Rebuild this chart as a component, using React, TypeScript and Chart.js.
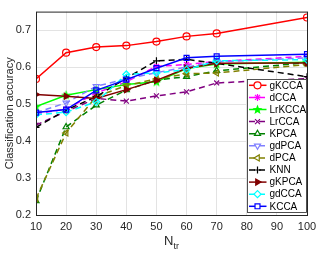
import React, { useEffect, useRef } from "react";
import { Chart, registerables } from "chart.js";
import { drawPoint } from "chart.js/helpers";
Chart.register(...registerables);

const xValues = [10, 20, 30, 40, 50, 60, 70, 100];
const seriesNames = ["gKCCA", "dCCA", "LrKCCA", "LrCCA", "KPCA", "gdPCA", "dPCA", "KNN", "gKPCA", "gdCCA", "KCCA"];
const gKCCA = [0.568, 0.639, 0.654, 0.658, 0.669, 0.683, 0.691, 0.734];
const dCCA = [0.474, 0.486, 0.53, 0.56, 0.602, 0.607, 0.615, 0.629];
const LrKCCA = [0.493, 0.524, 0.539, 0.553, 0.56, 0.596, 0.608, 0.613];
const LrCCA = [0.443, 0.48, 0.515, 0.508, 0.522, 0.533, 0.557, 0.569];
const KPCA = [0.238, 0.438, 0.497, 0.538, 0.565, 0.574, 0.59, 0.612];
const gdPCA = [0.477, 0.503, 0.548, 0.568, 0.585, 0.6, 0.614, 0.625];
const dPCA = [0.244, 0.422, 0.52, 0.55, 0.568, 0.582, 0.584, 0.607];
const KNN = [0.437, 0.484, 0.52, 0.57, 0.617, 0.621, 0.61, 0.574];
const gKPCA = [0.526, 0.521, 0.515, 0.539, 0.564, 0.597, 0.61, 0.611];
const gdCCA = [0.471, 0.478, 0.506, 0.58, 0.584, 0.593, 0.617, 0.62];
const KCCA = [0.477, 0.485, 0.537, 0.566, 0.597, 0.625, 0.629, 0.635];
const seriesValues = [gKCCA, dCCA, LrKCCA, LrCCA, KPCA, gdPCA, dPCA, KNN, gKPCA, gdCCA, KCCA];
const yTicks = [0.2, 0.3, 0.4, 0.5, 0.6, 0.7];

const colors = ["#ff0000", "#ff00ff", "#00ff00", "#800080", "#008000", "#8080ff", "#808000", "#000000", "#800000", "#00ffff", "#0000ff"];
const dashed = [false, true, false, true, true, true, true, true, false, true, false];
const FONT = "'Liberation Sans', Arial, sans-serif";

function pentagram(color: string) {
  const c = document.createElement("canvas");
  c.width = 11; c.height = 11;
  const g = c.getContext("2d")!;
  g.beginPath();
  for (let i = 0; i < 10; i++) {
    const r = i % 2 === 0 ? 5.2 : 2.2;
    const a = -Math.PI / 2 + (i * Math.PI) / 5;
    const x = 5.5 + r * Math.cos(a), y = 5.8 + r * Math.sin(a);
    if (i === 0) g.moveTo(x, y); else g.lineTo(x, y);
  }
  g.closePath();
  g.fillStyle = color; g.fill();
  return c;
}

export default function App() {
  const ref = useRef<HTMLCanvasElement>(null);
  useEffect(() => {
    const star = pentagram(colors[2]);
    const styles: any[] = [
      { ps: "circle", rot: 0, fill: false },
      { ps: "star", rot: 0, fill: false },
      { ps: star, rot: 0, fill: true },
      { ps: "crossRot", rot: 0, fill: false },
      { ps: "triangle", rot: 0, fill: false },
      { ps: "triangle", rot: 180, fill: false },
      { ps: "triangle", rot: -90, fill: false },
      { ps: "cross", rot: 0, fill: false },
      { ps: "triangle", rot: 90, fill: true },
      { ps: "rectRot", rot: 0, fill: false },
      { ps: "rect", rot: 0, fill: false },
    ];
    const datasets = seriesNames.map((name, i) => ({
      label: name,
      data: xValues.map((x, j) => ({ x, y: seriesValues[i][j] })),
      borderColor: colors[i],
      backgroundColor: styles[i].fill ? colors[i] : "rgba(0,0,0,0)",
      borderWidth: 1.5,
      borderDash: dashed[i] ? [6, 4] : [],
      pointStyle: styles[i].ps,
      rotation: styles[i].rot,
      pointRadius: 3.5,
      pointBorderWidth: 1.2,
      order: -i,
      tension: 0,
    }));

    const frame = {
      id: "frame",
      afterDraw(chart: any) {
        const { ctx, chartArea: a } = chart;
        ctx.save();
        ctx.strokeStyle = "#262626";
        ctx.lineWidth = 1;
        ctx.strokeRect(a.left + 0.5, a.top + 0.5, a.right - a.left, a.bottom - a.top);
        ctx.fillStyle = "#262626";
        ctx.textBaseline = "alphabetic";
        ctx.font = `13px ${FONT}`;
        const nW = ctx.measureText("N").width;
        ctx.font = `9px ${FONT}`;
        const sW = ctx.measureText("tr").width;
        const cx = (a.left + a.right) / 2;
        const x0 = cx - (nW + sW) / 2;
        ctx.font = `13px ${FONT}`;
        ctx.fillText("N", x0, 245);
        ctx.font = `9px ${FONT}`;
        ctx.fillText("tr", x0 + nW, 249);
        ctx.save();
        ctx.translate(10, (a.top + a.bottom) / 2);
        ctx.rotate(-Math.PI / 2);
        ctx.font = `11px ${FONT}`;
        ctx.textAlign = "center";
        ctx.textBaseline = "middle";
        ctx.fillText("Classification accuracy", 0, 0);
        ctx.restore();
        const L = 247, T = 79, R = 307, B = 213;
        ctx.fillStyle = "#ffffff";
        ctx.fillRect(L, T, R - L, B - T);
        ctx.strokeStyle = "#262626";
        ctx.lineWidth = 0.8;
        ctx.strokeRect(L + 0.5, T + 0.5, R - L - 1, B - T - 1);
        const step = 12.1;
        seriesNames.forEach((name, i) => {
          const y = T + 6.3 + i * step;
          ctx.strokeStyle = colors[i];
          ctx.lineWidth = 1.5;
          ctx.setLineDash(dashed[i] ? [6, 4] : []);
          ctx.beginPath();
          ctx.moveTo(249, y);
          ctx.lineTo(266.5, y);
          ctx.stroke();
          ctx.setLineDash([]);
          ctx.lineWidth = 1.2;
          ctx.fillStyle = styles[i].fill ? colors[i] : "#ffffff";
          drawPoint(ctx, { pointStyle: styles[i].ps, rotation: styles[i].rot, radius: 3.5, borderWidth: 1.2 } as any, 257.5, y);
          ctx.fillStyle = "#000000";
          ctx.font = `10px ${FONT}`;
          ctx.textAlign = "left";
          ctx.textBaseline = "middle";
          ctx.fillText(name, 269.5, y + 0.5);
        });
        ctx.restore();
      },
    };

    const chart = new Chart(ref.current!, {
      type: "line",
      data: { datasets },
      options: {
        animation: false,
        responsive: false,
        maintainAspectRatio: false,
        layout: { padding: { top: 8, right: 16, left: 0, bottom: 0 } },
        plugins: { legend: { display: false }, tooltip: { enabled: false }, title: { display: false } },
        scales: {
          x: {
            type: "linear",
            min: 10,
            max: 100,
            afterFit: (s: any) => { s.height = 40; },
            grid: { color: "#e3e3e3", drawTicks: false, lineWidth: 1 },
            border: { display: false },
            ticks: { stepSize: 10, color: "#262626", font: { family: FONT, size: 11 }, padding: 5, maxRotation: 0 },
          },
          y: {
            min: 0.2,
            max: 0.75,
            afterFit: (s: any) => { s.width = 36; },
            afterBuildTicks: (s: any) => { s.ticks = yTicks.map((v) => ({ value: v })); },
            grid: { color: "#e3e3e3", drawTicks: false, lineWidth: 1 },
            border: { display: false },
            ticks: { color: "#262626", font: { family: FONT, size: 11 }, padding: 5, callback: (v: any) => Number(v).toFixed(1) },
          },
        },
      },
      plugins: [frame],
    } as any);
    return () => chart.destroy();
  }, []);
  return (
    <div style={{ position: "fixed", left: 0, top: 0, width: 323, height: 255, background: "#fff" }}>
      <canvas ref={ref} width={323} height={255} style={{ width: 323, height: 255 }} />
    </div>
  );
}
